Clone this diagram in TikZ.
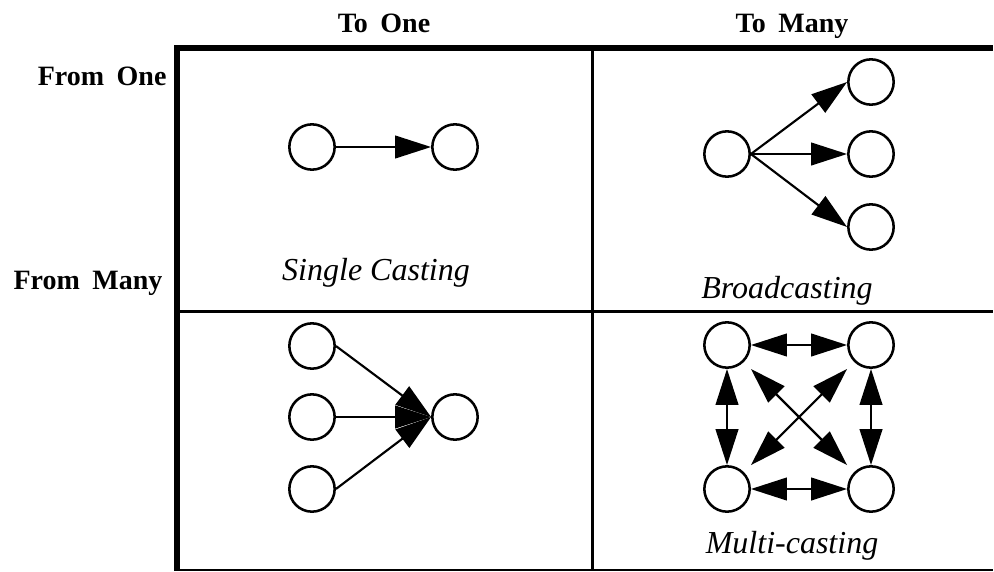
\documentclass[tikz,border=0pt]{standalone}
\usepackage{fontspec}
\setmainfont{Liberation Serif}
\usetikzlibrary{arrows.meta}

\tikzset{every picture/.style={line width=0.75pt}}
\tikzset{
	peer/.style={draw, circle, minimum size=34pt, inner sep=0pt, line width=1.9pt},
	cast/.style={line width=1.6pt, -{Triangle[length=27pt,width=17pt]}},
	bicast/.style={line width=1.6pt, {Triangle[length=27pt,width=17pt]}-{Triangle[length=27pt,width=17pt]}},
	hdr/.style={font=\fontsize{21}{25}\selectfont\bfseries, inner sep=0pt},
	capt/.style={font=\fontsize{24}{28}\selectfont\itshape, inner sep=0pt, anchor=base},
}

\begin{document}
\begin{tikzpicture}[x=0.75pt,y=0.75pt,yscale=-1,xscale=1]
	\useasboundingbox (0,0) rectangle (994,571);
	
	%Straight Lines: table frame
	\draw [line width=4.5]    (174,48) -- (993,48) ;
	\draw [line width=4.5]    (177,45) -- (177,571) ;
	\draw [line width=2.25]    (177,311) -- (993,311) ;
	\draw [line width=1.5]    (177,570) -- (993,570) ;
	\draw [line width=2.25]    (592,48) -- (592,570) ;
	
	%Text: headers
	\node [hdr, anchor=base] (toone) at (384,32) {To\hspace{0.45em}One};
	\node [hdr, anchor=base] (tomany) at (792,32) {To\hspace{0.45em}Many};
	\node [hdr, anchor=base east] (fromone) at (167,85) {From\hspace{0.45em}One};
	\node [hdr, anchor=base east] (frommany) at (163,289) {From\hspace{0.45em}Many};
	
	%Shape: Circle - single casting
	\node [peer] (sa) at (312,147) {};
	\node [peer] (sb) at (455,147) {};
	\draw [cast] (sa.east) -- (sb.west) ;
	\node [capt] (single) at (376,280) {Single Casting};
	
	%Shape: Circle - broadcasting
	\node [peer] (bsrc) at (727,154) {};
	\node [peer] (bt1) at (871,82) {};
	\node [peer] (bt2) at (871,154) {};
	\node [peer] (bt3) at (871,227) {};
	\foreach \t in {bt1,bt2,bt3}
		\draw [cast] (bsrc.east) -- (\t.west) ;
	\node [capt] (broad) at (787,298) {Broadcasting};
	
	%Shape: Circle - many to one
	\node [peer] (ms1) at (312,346) {};
	\node [peer] (ms2) at (312,417) {};
	\node [peer] (ms3) at (312,489) {};
	\node [peer] (mtgt) at (455,417) {};
	\foreach \s in {ms1,ms2,ms3}
		\draw [cast] (\s.east) -- (mtgt.west) ;
	
	%Shape: Circle - multi-casting
	\node [peer] (mc1) at (727,345) {};
	\node [peer] (mc2) at (871,345) {};
	\node [peer] (mc3) at (727,489) {};
	\node [peer] (mc4) at (871,489) {};
	\draw [bicast] (mc1.east) -- (mc2.west) ;
	\draw [bicast] (mc3.east) -- (mc4.west) ;
	\draw [bicast] (mc1.south) -- (mc3.north) ;
	\draw [bicast] (mc2.south) -- (mc4.north) ;
	\draw [bicast] (mc1.east |- mc1.south) -- (mc4.west |- mc4.north) ;
	\draw [bicast] (mc2.west |- mc2.south) -- (mc3.east |- mc3.north) ;
	\node [capt] (multi) at (792,553) {Multi-casting};
	
\end{tikzpicture}
\end{document}
